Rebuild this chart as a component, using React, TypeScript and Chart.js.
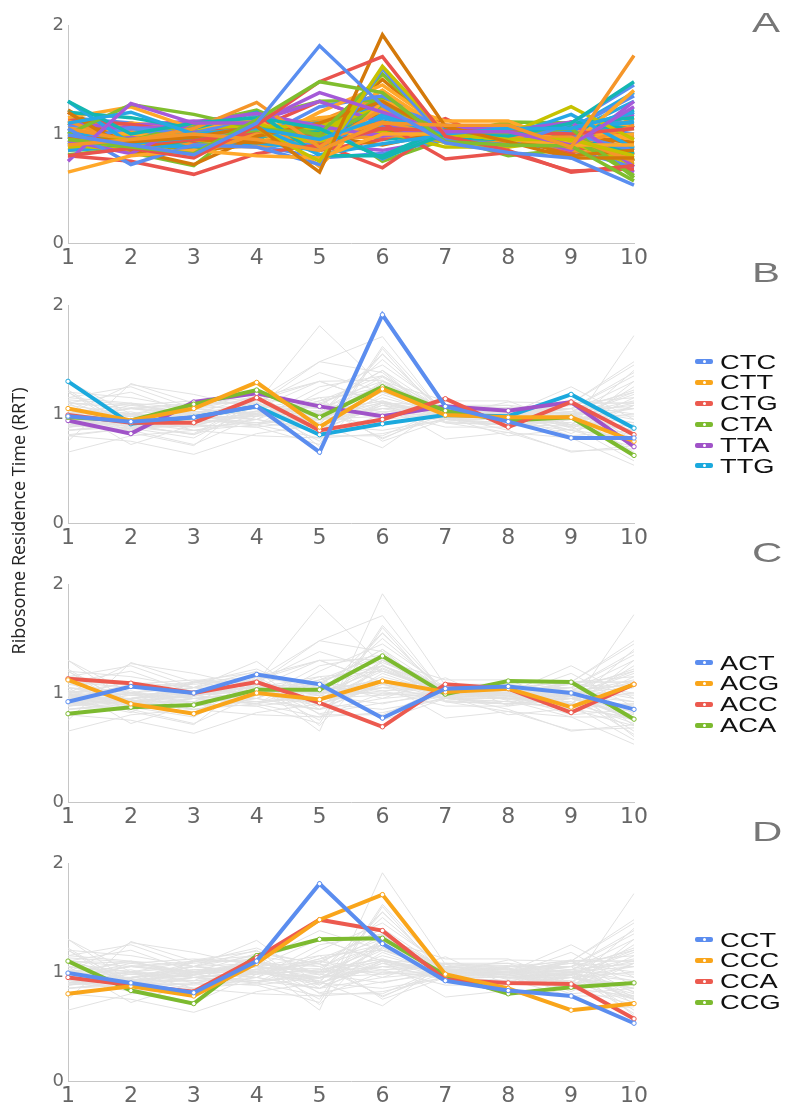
import React, { useEffect, useRef } from 'react';
import { Chart, registerables } from 'chart.js';

Chart.register(...registerables);

// ---------- data ----------
const positions = ['1', '2', '3', '4', '5', '6', '7', '8', '9', '10'];
const yTickValues = [0, 1, 2];
const panelLetters = ['A', 'B', 'C', 'D'];
const yAxisTitle = 'Ribosome Residence Time (RRT)';

const codonNames = [
  'CCT', 'GTG', 'CCA', 'CCC', 'AGG', 'CTC', 'TCA', 'GAG', 'TGG', 'AAG',
  'CAC', 'CTT', 'GGT', 'CGA', 'TTA', 'TCC', 'TTG', 'GTA', 'AGT', 'GCA',
  'ACT', 'ACG', 'CTA', 'AGA', 'ATA', 'TCG', 'TAC', 'TAT', 'GAT', 'GCC',
  'CAT', 'GCT', 'ACA', 'ACC', 'ATG', 'GGG', 'ATC', 'GGA', 'AAT', 'AAC',
  'CAA', 'TTT', 'CCG', 'CTG', 'AGC', 'GAC', 'GTC', 'GAA', 'CGT', 'CAG',
  'GTT', 'GCG', 'TGC', 'CGC', 'TCT', 'TGT', 'ATT', 'GGC', 'CGG', 'AAA',
  'TTC',
];

const codonRRT = [
  [0.99, 0.90, 0.81, 1.10, 1.81, 1.26, 0.92, 0.83, 0.78, 0.53],
  [0.90, 0.95, 1.00, 0.95, 0.85, 1.10, 1.08, 1.08, 0.88, 1.72],
  [0.95, 0.88, 0.82, 1.13, 1.48, 1.38, 0.93, 0.90, 0.89, 0.57],
  [0.80, 0.87, 0.78, 1.08, 1.48, 1.71, 0.98, 0.85, 0.65, 0.71],
  [0.75, 1.28, 1.10, 1.10, 1.38, 1.20, 1.02, 1.02, 0.90, 1.25],
  [0.98, 0.93, 0.97, 1.07, 0.65, 1.91, 1.07, 0.93, 0.78, 0.78],
  [1.10, 1.20, 1.00, 1.05, 0.95, 1.15, 1.00, 1.05, 1.05, 1.20],
  [0.95, 0.95, 1.00, 1.05, 0.75, 1.62, 1.00, 0.95, 0.95, 0.80],
  [1.30, 1.00, 1.10, 1.15, 1.05, 0.78, 1.00, 0.98, 1.10, 1.48],
  [0.65, 0.80, 0.85, 0.80, 0.78, 1.00, 1.00, 0.95, 0.90, 0.90],
  [1.05, 0.72, 0.90, 0.88, 0.72, 1.60, 0.95, 0.90, 1.10, 1.45],
  [1.05, 0.94, 1.05, 1.29, 0.88, 1.23, 0.99, 0.97, 0.97, 0.75],
  [1.00, 1.27, 1.18, 1.05, 1.00, 1.55, 1.00, 1.00, 1.05, 0.60],
  [0.80, 0.75, 0.63, 0.82, 0.90, 1.05, 1.03, 1.02, 1.00, 1.05],
  [0.94, 0.82, 1.11, 1.19, 1.07, 0.98, 1.07, 1.03, 1.11, 0.70],
  [1.20, 0.85, 0.72, 0.98, 1.10, 1.30, 0.98, 0.98, 0.80, 0.85],
  [1.30, 0.91, 0.97, 1.07, 0.81, 0.91, 0.99, 0.98, 1.18, 0.87],
  [0.90, 0.85, 1.10, 1.10, 0.90, 1.55, 1.00, 1.00, 1.25, 0.95],
  [1.20, 1.15, 1.05, 1.20, 0.80, 0.80, 1.05, 1.00, 1.10, 1.15],
  [1.15, 1.25, 1.05, 1.15, 0.70, 1.30, 1.12, 1.12, 0.90, 1.40],
  [0.92, 1.06, 1.00, 1.17, 1.08, 0.77, 1.04, 1.06, 1.00, 0.85],
  [1.12, 0.90, 0.81, 1.00, 0.94, 1.11, 1.01, 1.04, 0.87, 1.08],
  [0.97, 0.94, 1.09, 1.22, 0.97, 1.25, 1.03, 0.94, 0.97, 0.62],
  [0.95, 0.90, 0.95, 1.00, 1.00, 1.10, 0.77, 0.83, 0.66, 0.68],
  [1.10, 1.05, 1.08, 1.12, 1.30, 1.10, 1.00, 1.00, 0.85, 1.30],
  [1.22, 0.88, 0.95, 0.92, 0.98, 0.90, 1.02, 0.95, 0.98, 0.92],
  [1.02, 0.90, 0.88, 0.92, 0.85, 1.18, 0.98, 1.00, 1.02, 1.30],
  [0.88, 0.92, 1.05, 1.08, 1.05, 1.25, 1.00, 0.95, 0.92, 0.72],
  [0.92, 0.85, 0.95, 0.98, 1.02, 1.12, 0.96, 0.95, 1.00, 0.82],
  [1.05, 1.00, 0.95, 0.90, 1.20, 1.45, 1.05, 1.00, 0.95, 1.00],
  [0.95, 1.05, 1.00, 0.95, 1.25, 1.35, 1.02, 1.00, 1.05, 1.35],
  [0.98, 1.02, 0.90, 0.88, 0.95, 0.98, 1.00, 0.98, 0.85, 0.78],
  [0.81, 0.87, 0.89, 1.03, 1.03, 1.34, 0.99, 1.11, 1.10, 0.76],
  [1.13, 1.09, 1.00, 1.10, 0.91, 0.69, 1.08, 1.04, 0.82, 1.08],
  [0.95, 1.08, 1.12, 1.08, 0.98, 1.28, 1.05, 1.03, 0.95, 0.85],
  [0.90, 0.92, 0.85, 0.90, 1.00, 1.05, 0.95, 0.90, 0.95, 0.85],
  [0.85, 0.88, 0.90, 1.00, 0.95, 1.05, 1.08, 1.05, 1.10, 1.10],
  [0.95, 1.00, 0.95, 0.90, 1.10, 1.02, 0.88, 0.88, 0.95, 0.88],
  [0.98, 0.95, 1.00, 1.08, 1.00, 1.22, 0.98, 1.00, 1.08, 1.05],
  [1.10, 1.08, 1.00, 1.05, 1.15, 1.20, 1.05, 1.02, 1.05, 0.95],
  [1.08, 1.00, 1.05, 1.00, 0.90, 1.08, 1.00, 1.02, 1.08, 1.00],
  [0.85, 0.90, 1.00, 1.02, 0.90, 1.10, 0.95, 0.92, 1.00, 0.98],
  [1.10, 0.83, 0.71, 1.15, 1.30, 1.31, 0.97, 0.80, 0.86, 0.90],
  [0.99, 0.92, 0.92, 1.15, 0.85, 0.95, 1.14, 0.88, 1.11, 0.81],
  [0.90, 0.98, 1.02, 1.05, 1.00, 1.00, 0.95, 1.00, 0.98, 1.18],
  [0.88, 0.95, 0.98, 1.10, 1.00, 1.50, 1.02, 1.00, 0.90, 0.75],
  [0.95, 0.92, 0.98, 1.02, 0.92, 1.30, 1.02, 1.00, 1.00, 1.12],
  [1.02, 0.98, 0.92, 0.95, 0.85, 1.08, 0.92, 0.90, 0.95, 0.78],
  [0.90, 0.95, 1.02, 1.05, 1.10, 0.95, 1.00, 0.97, 1.02, 1.22],
  [0.98, 1.10, 1.05, 1.00, 1.08, 1.40, 1.02, 1.00, 0.98, 1.10],
  [1.15, 1.10, 0.98, 0.90, 0.78, 0.82, 0.95, 0.92, 0.85, 0.70],
  [1.00, 0.90, 0.92, 0.98, 1.12, 1.35, 1.03, 1.00, 0.88, 1.15],
  [0.90, 1.00, 0.85, 0.95, 1.15, 0.75, 0.95, 0.90, 1.00, 0.75],
  [1.20, 0.90, 1.00, 1.05, 1.30, 1.10, 0.98, 1.00, 1.10, 1.10],
  [1.00, 1.10, 0.95, 1.00, 0.90, 0.85, 0.95, 0.95, 1.00, 0.65],
  [1.05, 0.98, 1.02, 1.00, 0.95, 1.20, 1.00, 0.98, 1.02, 0.92],
  [0.88, 0.95, 1.05, 0.98, 1.12, 1.25, 0.97, 0.96, 1.05, 1.38],
  [1.00, 1.05, 1.10, 1.00, 0.88, 1.25, 1.05, 1.08, 1.02, 1.08],
  [0.95, 1.05, 0.98, 0.92, 0.95, 1.02, 1.05, 1.02, 0.98, 0.75],
  [0.85, 0.92, 0.98, 1.02, 1.08, 1.40, 0.92, 0.90, 0.95, 1.05],
  [0.92, 0.98, 0.95, 0.98, 1.02, 1.12, 0.98, 0.95, 0.98, 1.20],
];

const panelBCodons = ['CTC', 'CTT', 'CTG', 'CTA', 'TTA', 'TTG'];
const panelCCodons = ['ACT', 'ACG', 'ACC', 'ACA'];
const panelDCodons = ['CCT', 'CCC', 'CCA', 'CCG'];

// ---------- styles ----------
const paletteA = [
  '#5A8EF0', '#F5962A', '#80BE2E', '#E9534D', '#A55AD8',
  '#D4790A', '#27A8E4', '#C6C200', '#14B6B2', '#FFA82A',
];
const highlightColors = ['#5B8DEF', '#F9A51A', '#EC5A4F', '#7CBA2F', '#A053C8', '#1BA9DD'];
const greyLine = '#e2e2e2';

const CANVAS_W = 786;
const CANVAS_H = 268;
const PAD_TOP = 15;

function makeOptions(): any {
  return {
    responsive: false,
    maintainAspectRatio: false,
    animation: false,
    events: [],
    layout: { padding: { top: PAD_TOP, right: 152, bottom: 0, left: 0 } },
    plugins: { legend: { display: false }, tooltip: { enabled: false }, title: { display: false } },
    elements: { line: { tension: 0 } },
    scales: {
      x: {
        type: 'category',
        offset: false,
        grid: { display: false, drawTicks: false },
        border: { display: true, color: '#c6c6c6', width: 1 },
        ticks: {
          autoSkip: false,
          maxRotation: 0,
          padding: 2,
          color: '#666666',
          font: { family: '"DejaVu Sans", sans-serif', size: 22 },
        },
        afterFit: (s: any) => { s.height = 35; },
      },
      y: {
        min: 0,
        max: 2,
        grid: { display: false, drawTicks: false },
        border: { display: true, color: '#c6c6c6', width: 1 },
        afterBuildTicks: (s: any) => { s.ticks = yTickValues.map((v) => ({ value: v })); },
        ticks: {
          padding: 4,
          color: '#6a6a6a',
          font: { family: '"DejaVu Sans", sans-serif', size: 18 },
        },
        afterFit: (s: any) => { s.width = 68; },
      },
    },
  };
}

function allColoredDatasets() {
  return codonNames.map((name, i) => ({
    label: name,
    data: codonRRT[i],
    borderColor: paletteA[i % paletteA.length],
    borderWidth: 3.5,
    pointRadius: 0,
    fill: false,
  }));
}

function highlightDatasets(codons: string[]) {
  const hl = codons.map((name, i) => ({
    label: name,
    data: codonRRT[codonNames.indexOf(name)],
    borderColor: highlightColors[i],
    borderWidth: 4,
    pointRadius: 2.2,
    pointBorderWidth: 1,
    pointBackgroundColor: '#ffffff',
    pointBorderColor: highlightColors[i],
    fill: false,
  }));
  const grey = codonNames.map((name, i) => ({
    label: '_' + name,
    data: codonRRT[i],
    borderColor: greyLine,
    borderWidth: 1,
    pointRadius: 0,
    fill: false,
  }));
  return [...hl, ...grey];
}

function LinePanel({ top, datasets }: { top: number; datasets: any[] }) {
  const ref = useRef<HTMLCanvasElement>(null);
  useEffect(() => {
    const chart = new Chart(ref.current as HTMLCanvasElement, {
      type: 'line',
      data: { labels: positions, datasets },
      options: makeOptions(),
    });
    return () => chart.destroy();
  }, []);
  return (
    <canvas
      ref={ref}
      width={CANVAS_W}
      height={CANVAS_H}
      style={{ position: 'absolute', left: 0, top, width: CANVAS_W, height: CANVAS_H }}
    />
  );
}

function Legend({ top, names }: { top: number; names: string[] }) {
  return (
    <div style={{ position: 'absolute', left: 695, top }}>
      {names.map((n, i) => (
        <div key={n} style={{ height: 20.8, display: 'flex', alignItems: 'center' }}>
          <span
            style={{
              position: 'relative',
              display: 'inline-block',
              width: 18,
              height: 5,
              borderRadius: 2,
              background: highlightColors[i],
            }}
          >
            <span
              style={{
                position: 'absolute',
                left: 7.5,
                top: 1,
                width: 3,
                height: 3,
                borderRadius: '50%',
                background: '#ffffff',
              }}
            />
          </span>
          <span
            style={{
              display: 'inline-block',
              marginLeft: 7,
              font: '21px "Liberation Sans", Arial, sans-serif',
              lineHeight: '20.8px',
              color: '#111',
              transform: 'scaleX(1.3)',
              transformOrigin: 'left center',
            }}
          >
            {n}
          </span>
        </div>
      ))}
    </div>
  );
}

const letterTops = [9, 259, 539, 818];
const panelTops = [10, 290, 569, 848];

export default function App() {
  return (
    <div style={{ position: 'absolute', left: 0, top: 0, width: 786, height: 1104, background: '#fff', overflow: 'hidden' }}>
      <LinePanel top={panelTops[0]} datasets={allColoredDatasets()} />
      <LinePanel top={panelTops[1]} datasets={highlightDatasets(panelBCodons)} />
      <LinePanel top={panelTops[2]} datasets={highlightDatasets(panelCCodons)} />
      <LinePanel top={panelTops[3]} datasets={highlightDatasets(panelDCodons)} />
      <Legend top={351.6} names={panelBCodons} />
      <Legend top={652.6} names={panelCCodons} />
      <Legend top={929.6} names={panelDCodons} />
      {panelLetters.map((l, i) => (
        <div
          key={l}
          style={{
            position: 'absolute',
            left: 752,
            top: letterTops[i],
            font: '28px "Liberation Sans", Arial, sans-serif',
            lineHeight: '28px',
            color: '#777',
            transform: 'scaleX(1.5)',
            transformOrigin: 'left center',
          }}
        >
          {l}
        </div>
      ))}
      <div
        style={{
          position: 'absolute',
          left: 18 - 160,
          top: 521 - 12,
          width: 320,
          height: 24,
          lineHeight: '24px',
          textAlign: 'center',
          font: '18px "Open Sans", sans-serif',
          color: '#222',
          transform: 'rotate(-90deg)',
          transformOrigin: '160px 12px',
          whiteSpace: 'nowrap',
        }}
      >
        {yAxisTitle}
      </div>
    </div>
  );
}
